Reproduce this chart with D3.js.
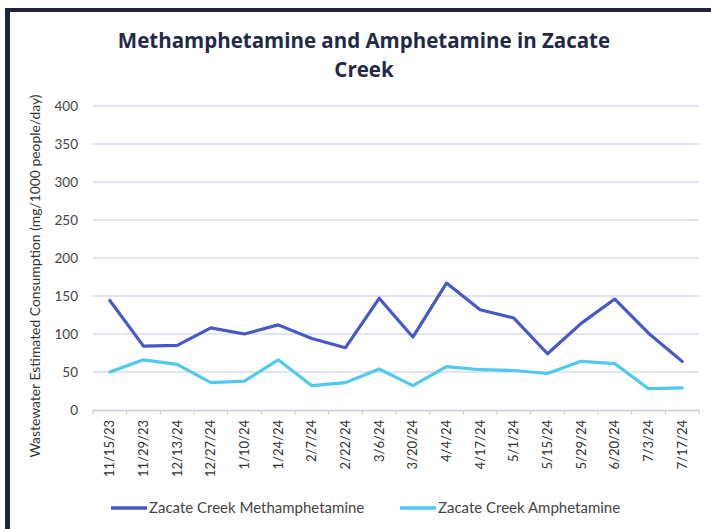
<!DOCTYPE html>
<html>
<head>
<meta charset="utf-8">
<script src="https://cdn.jsdelivr.net/npm/d3@7"></script>
<style>
  body { margin: 0; background: #fff; }
  svg { display: block; font-family: Lato, "Open Sans", sans-serif; }
</style>
</head>
<body>
<svg></svg>
<script>
const dates = ["11/15/23", "11/29/23", "12/13/24", "12/27/24", "1/10/24", "1/24/24", "2/7/24", "2/22/24",
    "3/6/24", "3/20/24", "4/4/24", "4/17/24", "5/1/24", "5/15/24", "5/29/24", "6/20/24", "7/3/24", "7/17/24"];
const meth = [144, 84, 85, 108, 100, 112, 94, 82, 147, 96, 167, 132, 121, 74, 114, 146, 101, 64];
const amph = [50, 66, 60, 36, 38, 66, 32, 36, 54, 32, 57, 53, 52, 48, 64, 61, 28, 29];
const yTicks = [0, 50, 100, 150, 200, 250, 300, 350, 400];

const series = [
    { name: "Zacate Creek Methamphetamine", values: meth, color: "#4659c6" },
    { name: "Zacate Creek Amphetamine", values: amph, color: "#50c9f0" }
];

const W = 711, H = 529;
const svg = d3.select("svg").attr("width", W).attr("height", H);

// frame (top and left dark edges)
svg.append("rect").attr("x", 5).attr("y", 8).attr("width", W - 5).attr("height", 4).attr("fill", "#1f2342");
svg.append("rect").attr("x", 5).attr("y", 8).attr("width", 5).attr("height", H - 8).attr("fill", "#1f2342");

const x = d3.scaleBand().domain(dates).range([93, 699]);
const y = d3.scaleLinear().domain([0, 400]).range([410, 106]);

// title
const title = svg.append("text")
    .attr("text-anchor", "middle")
    .attr("font-family", "'Open Sans', sans-serif")
    .attr("font-weight", "bold")
    .attr("font-size", 20.5)
    .attr("fill", "#1f2a48");
title.append("tspan").attr("x", 364).attr("y", 48).text("Methamphetamine and Amphetamine in Zacate");
title.append("tspan").attr("x", 364).attr("y", 77).text("Creek");

// gridlines
svg.append("g")
    .selectAll("line")
    .data(yTicks.filter(d => d > 0))
    .join("line")
    .attr("x1", 93).attr("x2", 699)
    .attr("y1", d => y(d)).attr("y2", d => y(d))
    .attr("stroke", "#d8dbef").attr("stroke-width", 1.3);

// y axis
const yAxis = svg.append("g")
    .attr("transform", "translate(93,0)")
    .call(d3.axisLeft(y).tickValues(yTicks).tickSize(0).tickPadding(15));
yAxis.select(".domain").remove();
yAxis.selectAll("text").attr("font-size", 13.5).attr("fill", "#444").attr("font-family", "Lato, sans-serif");

// x axis
const xAxis = svg.append("g")
    .attr("transform", "translate(0,410)")
    .call(d3.axisBottom(x).tickSize(0).tickPadding(0));
xAxis.select(".domain").attr("stroke", "#c9cde3").attr("stroke-width", 1.3);
xAxis.selectAll(".tick text")
    .attr("font-size", 13)
    .attr("fill", "#333")
    .attr("font-family", "Lato, sans-serif")
    .attr("text-anchor", "end")
    .attr("transform", "translate(0,10) rotate(-90)")
    .attr("dx", 0).attr("dy", "0.35em").attr("x", 0).attr("y", 0);
xAxis.append("g")
    .selectAll("line")
    .data(dates.concat(["end"]))
    .join("line")
    .attr("x1", (d, i) => 93 + i * x.step())
    .attr("x2", (d, i) => 93 + i * x.step())
    .attr("y1", 0).attr("y2", 5)
    .attr("stroke", "#c9cde3").attr("stroke-width", 1);

// y axis title
svg.append("text")
    .attr("transform", "translate(40,276) rotate(-90)")
    .attr("text-anchor", "middle")
    .attr("font-size", 13.9)
    .attr("fill", "#333")
    .text("Wastewater Estimated Consumption (mg/1000 people/day)");

// lines
const line = d3.line()
    .x((d, i) => x(dates[i]) + x.bandwidth() / 2)
    .y(d => y(d));

svg.append("g")
    .selectAll("path")
    .data(series)
    .join("path")
    .attr("d", d => line(d.values))
    .attr("fill", "none")
    .attr("stroke", d => d.color)
    .attr("stroke-width", 3.2)
    .attr("stroke-linejoin", "round")
    .attr("stroke-linecap", "round");

// legend
const legend = svg.append("g")
    .selectAll("g")
    .data(series)
    .join("g")
    .attr("transform", (d, i) => `translate(${i === 0 ? 111 : 400},508)`);
legend.append("line")
    .attr("x1", 0).attr("x2", 36)
    .attr("stroke", d => d.color).attr("stroke-width", 3.5);
legend.append("text")
    .attr("x", 38).attr("dy", "0.35em")
    .attr("font-size", 15)
    .attr("fill", "#444")
    .text(d => d.name);
</script>
</body>
</html>
